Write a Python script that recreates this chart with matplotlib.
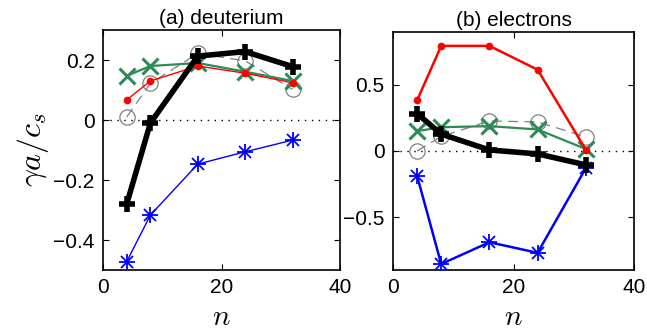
import matplotlib
matplotlib.use("Agg")
import matplotlib.pyplot as plt
import numpy as np

plt.rcParams['font.family'] = ['Liberation Sans', 'DejaVu Sans']
plt.rcParams['mathtext.fontset'] = 'cm'

n = [4, 8, 16, 24, 32]

# (a) deuterium
a_black = [-0.28, -0.01, 0.213, 0.228, 0.178]
a_green = [0.147, 0.18, 0.19, 0.161, 0.13]
a_red = [0.067, 0.13, 0.18, 0.156, 0.124]
a_gray = [0.01, 0.122, 0.222, 0.197, 0.102]
a_blue = [-0.472, -0.317, -0.147, -0.106, -0.067]

# (b) electrons
b_black = [0.283, 0.128, 0.008, -0.022, -0.105]
b_green = [0.15, 0.18, 0.188, 0.163, 0.015]
b_red = [0.383, 0.795, 0.795, 0.615, 0.01]
b_gray = [0.0, 0.11, 0.227, 0.22, 0.107]
b_blue = [-0.188, -0.855, -0.69, -0.77, -0.13]

titles = ['(a) deuterium', '(b) electrons']
xticks = [0, 20, 40]
a_yticks = [-0.4, -0.2, 0, 0.2]
a_yticklabels = ['\u22120.4', '\u22120.2', '0', '0.2']
b_yticks = [-0.5, 0, 0.5]
b_yticklabels = ['\u22120.5', '0', '0.5']

fig = plt.figure(figsize=(6.47, 3.33), dpi=100)
axa = fig.add_axes([103/647, 1-270/333, (340-103)/647, (270-30)/333])
axb = fig.add_axes([393/647, 1-270/333, (634-393)/647, (270-32)/333])

green = '#2e8b57'
def draw(ax, black, green_v, red, gray, blue, lw_thin):
    ax.axhline(0, color='k', ls=(0, (1, 4)), lw=1, zorder=1)
    ax.plot(n, gray, color='#808080', ls=(0, (8, 5)), lw=0.9, marker='o', ms=11,
            mfc='none', mec='#808080', mew=0.9, zorder=2)
    ax.plot(n, green_v, color=green, lw=1.6, marker='x', ms=12, mew=2.2, zorder=3)
    ax.plot(n, red, color='red', lw=lw_thin, marker='o', ms=4.5, zorder=4)
    ax.plot(n, blue, color='blue', lw=lw_thin, zorder=4)
    # asterisk marker: combine + and x
    ax.plot(n, blue, ls='none', marker='+', ms=12, mew=1.3, color='blue', zorder=4)
    ax.plot(n, blue, ls='none', marker='x', ms=9, mew=1.3, color='blue', zorder=4)
    ax.plot(n, black, color='k', lw=4, marker='+', ms=12, mew=4, zorder=5)

draw(axa, a_black, a_green, a_red, a_gray, a_blue, 1.0)
draw(axb, b_black, b_green, b_red, b_gray, b_blue, 1.8)

axa.set_xlim(0, 40)
axa.set_ylim(-0.5, 0.3)
axa.set_yticks(a_yticks)
axa.set_yticklabels(a_yticklabels)
axb.set_xlim(0, 40)
axb.set_ylim(-0.9, 0.9)
axb.set_yticks(b_yticks)
axb.set_yticklabels(b_yticklabels)

for ax, t in zip([axa, axb], titles):
    ax.set_xticks(xticks)
    ax.tick_params(direction='in', top=True, right=True, labelsize=15, length=4, width=0.8, pad=6)
    for s in ax.spines.values():
        s.set_linewidth(1.2)
    ax.set_title(t, fontsize=15, pad=4)
    ax.set_xlabel('$n$', fontsize=21, labelpad=4)

axa.set_ylabel('$\\gamma a/c_s$', fontsize=23, labelpad=2)

fig.savefig('out.png', dpi=100)
